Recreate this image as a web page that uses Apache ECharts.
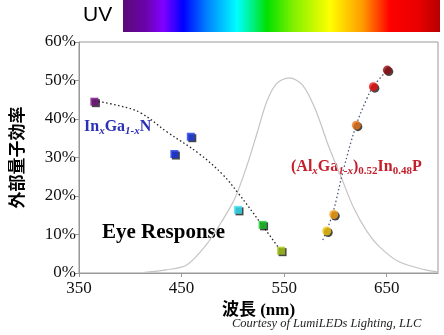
<!DOCTYPE html>
<html><head><meta charset="utf-8">
<script src="https://cdn.jsdelivr.net/npm/echarts@6/dist/echarts.min.js"></script>
<style>html,body{margin:0;padding:0;background:#fff}#c{width:444px;height:335px}</style>
</head><body><div id="c"></div>
<script>
// Eye response curve (wavelength nm, %)
var eyeX = [414, 435, 455, 474, 489, 502, 514, 524, 533, 543, 555, 568, 580, 593, 606, 618, 631, 643, 662, 688, 700];
var eyeY = [0.2, 0.8, 2.1, 7.3, 13.3, 19.4, 28.1, 36.7, 44.5, 49.3, 50.7, 48.8, 42.8, 33.2, 24.6, 16.8, 10.7, 6.8, 2.9, 0.8, 0.3];
// InGaN measured points
var inganX = [365, 443, 459, 505, 529, 547];
var inganY = [44.5, 30.9, 35.4, 16.4, 12.5, 5.8];
var inganColors = ['#74107e', '#1432e0', '#1a3ae6', '#34e0f2', '#14c424', '#a4c414'];
// InGaN trend (dotted)
var inganTrendX = [365, 390, 410, 436, 467, 490, 505, 527, 546];
var inganTrendY = [44.7, 43.4, 41.6, 36.6, 31.0, 25.6, 20.8, 13.0, 6.0];
// AlGaInP measured points
var alX = [591.5, 598.4, 620.4, 637, 650.6];
var alY = [10.9, 15.2, 38.4, 48.4, 52.7];
var alColors = ['#f2c20c', '#f4a012', '#e8741a', '#e81414', '#8e0c12'];
// AlGaInP trend (dotted)
var alTrendX = [587.7, 596.9, 608, 619.8, 630.8, 636.8, 650.6];
var alTrendY = [8.6, 15.1, 27.0, 38.0, 45.4, 48.4, 52.7];

function pairs(xs, ys) { return xs.map(function (x, i) { return [x, ys[i]]; }); }

var chart = echarts.init(document.getElementById('c'), null, {renderer: 'canvas'});
var serif = '"Liberation Serif", "Times New Roman", serif';
var markerShadow = {shadowColor: 'rgba(0,0,0,0.9)', shadowBlur: 0, shadowOffsetX: 1.5, shadowOffsetY: 1.5};

chart.setOption({
  animation: false,
  grid: {left: 69, right: 6, top: 42, bottom: 62, show: true, borderColor: '#999', borderWidth: 1},
  xAxis: {
    type: 'value', min: 350, max: 700, interval: 100,
    name: '波長 (nm)', nameLocation: 'middle', nameGap: 27,
    nameTextStyle: {fontFamily: serif + ', "Noto Sans CJK JP"', fontWeight: 'bold', fontSize: 17, color: '#000'},
    axisLine: {lineStyle: {color: '#999'}},
    axisTick: {show: true, length: 4, lineStyle: {color: '#999'}},
    axisLabel: {fontFamily: serif, fontSize: 17, color: '#111', margin: 7, showMaxLabel: false},
    splitLine: {show: false}
  },
  yAxis: {
    type: 'value', min: 0, max: 60, interval: 10,
    name: '外部量子効率', nameLocation: 'middle', nameGap: 54, nameRotate: 90,
    nameTextStyle: {fontFamily: '"Noto Sans CJK JP"', fontWeight: 'bold', fontSize: 17, color: '#000'},
    axisLine: {show: true, lineStyle: {color: '#999'}},
    axisTick: {show: true, length: 4, lineStyle: {color: '#999'}},
    axisLabel: {fontFamily: serif, fontSize: 17, color: '#111', margin: 3, formatter: '{value}%'},
    splitLine: {show: false}
  },
  series: [
    {type: 'line', data: pairs(eyeX, eyeY), smooth: 0.3, showSymbol: false, lineStyle: {color: '#c4c4c4', width: 1.2}, z: 1},
    {type: 'line', data: pairs(inganTrendX, inganTrendY), smooth: 0.4, showSymbol: false, lineStyle: {color: '#222', width: 1.3, type: [1.5, 2.5]}, z: 2},
    {type: 'line', data: pairs(alTrendX, alTrendY), smooth: 0.4, showSymbol: false, lineStyle: {color: '#4a5a78', width: 1.3, type: [1.5, 2.5]}, z: 2},
    {type: 'scatter', symbol: 'rect', symbolSize: 8, z: 3,
     data: inganX.map(function (x, i) { return {value: [x, inganY[i]], itemStyle: Object.assign({color: inganColors[i]}, markerShadow)}; })},
    {type: 'scatter', symbol: 'circle', symbolSize: 9, z: 3,
     data: alX.map(function (x, i) { return {value: [x, alY[i]], itemStyle: Object.assign({color: alColors[i]}, markerShadow)}; })}
  ],
  graphic: [
    {type: 'rect', left: 123, top: 0, shape: {width: 317, height: 32},
     style: {fill: new echarts.graphic.LinearGradient(0, 0, 1, 0, [
       {offset: 0, color: '#5a0a78'}, {offset: 0.07, color: '#6a04a8'}, {offset: 0.127, color: '#8000ff'},
       {offset: 0.19, color: '#0000ff'}, {offset: 0.264, color: '#0080ff'}, {offset: 0.36, color: '#00ffff'},
       {offset: 0.41, color: '#00f080'}, {offset: 0.454, color: '#00e000'}, {offset: 0.537, color: '#80f000'},
       {offset: 0.653, color: '#ffff00'}, {offset: 0.757, color: '#ff9900'}, {offset: 0.842, color: '#ff0000'},
       {offset: 0.93, color: '#e80000'}, {offset: 1, color: '#b80000'}])}},
    {type: 'text', left: 83, top: 5, style: {text: 'UV', font: '21px "Liberation Sans", Arial, sans-serif', fill: '#000'}},
    {type: 'text', left: 84, top: 119, style: {
      text: '{b|In}{s|x}{b|Ga}{s|1-x}{b|N}',
      rich: {
        b: {fontFamily: serif, fontWeight: 'bold', fontSize: 16, fill: '#2c30b4', color: '#2c30b4'},
        s: {fontFamily: serif, fontWeight: 'bold', fontStyle: 'italic', fontSize: 11, fill: '#2c30b4', color: '#2c30b4', padding: [8, 0, 0, 0]}
      }}},
    {type: 'text', left: 102, top: 222, style: {text: 'Eye Response', font: 'bold 21px ' + serif, fill: '#000'}},
    {type: 'text', left: 291, top: 159, style: {
      text: '{b|(Al}{i|x}{b|Ga}{i|1-x}{b|)}{s|0.52}{b|In}{s|0.48}{b|P}',
      rich: {
        b: {fontFamily: serif, fontWeight: 'bold', fontSize: 16, fill: '#c4202c', color: '#c4202c'},
        i: {fontFamily: serif, fontWeight: 'bold', fontStyle: 'italic', fontSize: 11, fill: '#c4202c', color: '#c4202c', padding: [8, 0, 0, 0]},
        s: {fontFamily: serif, fontWeight: 'bold', fontSize: 11, fill: '#c4202c', color: '#c4202c', padding: [8, 0, 0, 0]}
      }}},
    {type: 'text', left: 232, top: 317, style: {text: 'Courtesy of LumiLEDs Lighting, LLC', font: 'italic 12.5px ' + serif, fill: '#222'}}
  ]
});
</script></body></html>
